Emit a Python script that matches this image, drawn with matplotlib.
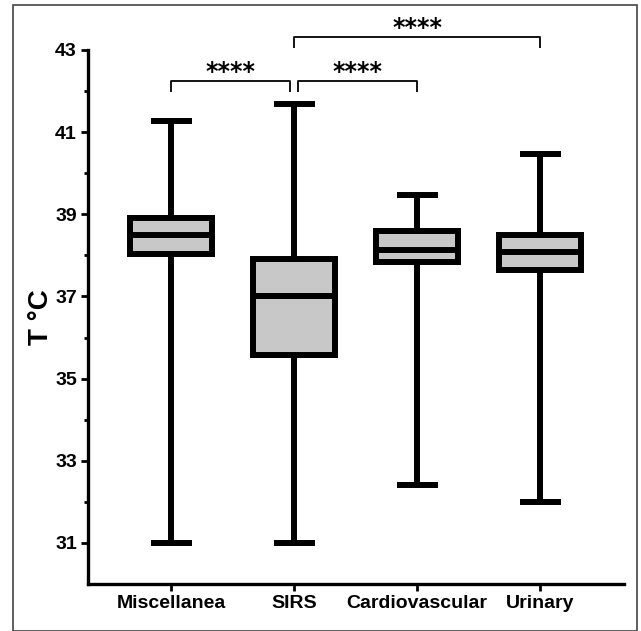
import matplotlib
matplotlib.use("Agg")
import matplotlib.pyplot as plt
from matplotlib.patches import Rectangle

plt.rcParams['font.family'] = ['Liberation Sans', 'DejaVu Sans']
plt.rcParams['font.weight'] = 'bold'

groups = ["Miscellanea", "SIRS", "Cardiovascular", "Urinary"]
whislo = [31.0, 31.0, 32.4, 32.0]
q1 = [38.04, 35.58, 37.85, 37.65]
med = [38.49, 37.01, 38.14, 38.08]
q3 = [38.90, 37.91, 38.59, 38.49]
whishi = [41.28, 41.69, 39.47, 40.47]

# significance brackets: (x start, x end, bar height, label)
sig_x1 = [0.0, 1.03, 1.0]
sig_x2 = [0.967, 2.0, 3.0]
sig_y = [42.25, 42.25, 43.32]
sig_lab = ["****", "****", "****"]

stats = [dict(label=g, whislo=a, q1=b, med=c, q3=d, whishi=e)
         for g, a, b, c, d, e in zip(groups, whislo, q1, med, q3, whishi)]

fig = plt.figure(figsize=(6.41, 6.31), dpi=100)
ax = fig.add_axes([0.1373, 0.0745, 0.8362, 0.8463])

lw = 4.3
ax.bxp(stats, positions=range(len(groups)), widths=0.667, showfliers=False,
       patch_artist=True,
       boxprops=dict(facecolor='#c8c8c8', edgecolor='black', linewidth=lw),
       medianprops=dict(color='black', linewidth=lw),
       whiskerprops=dict(color='black', linewidth=lw, solid_capstyle='butt'),
       capprops=dict(color='black', linewidth=lw, solid_capstyle='butt'),
       capwidths=0.333)

for x1, x2, y, lab in zip(sig_x1, sig_x2, sig_y, sig_lab):
    ax.plot([x1, x1, x2, x2], [y - 0.27, y, y, y - 0.27], color='black',
            lw=1.3, clip_on=False, solid_capstyle='butt')
    ax.text((x1 + x2) / 2, y - 0.08, lab, ha='center', va='bottom',
            fontsize=17, fontweight='bold', family='DejaVu Sans', clip_on=False)

ax.set_xlim(-0.675, 3.68)
ax.set_ylim(30, 43)
ax.set_yticks([31, 33, 35, 37, 39, 41, 43])
ax.set_yticks([32, 34, 36, 38, 40, 42], minor=True)
ax.set_xticks(range(len(groups)))
ax.set_xticklabels(groups)

for s in ['top', 'right']:
    ax.spines[s].set_visible(False)
for s in ['left', 'bottom']:
    ax.spines[s].set_linewidth(2.4)

ax.tick_params(axis='both', which='major', length=5, width=2, labelsize=14, pad=3)
ax.tick_params(axis='y', which='minor', length=3, width=2)
ax.tick_params(axis='x', labelsize=14)
ax.set_ylabel("T °C", fontsize=20, fontweight='bold', labelpad=1)

fig.patches.append(Rectangle((13 / 641, 0.0), 624 / 641, 1 - 5 / 631,
                             transform=fig.transFigure, fill=False,
                             edgecolor='#444444', linewidth=1.2))

fig.savefig("out.png", dpi=100)
